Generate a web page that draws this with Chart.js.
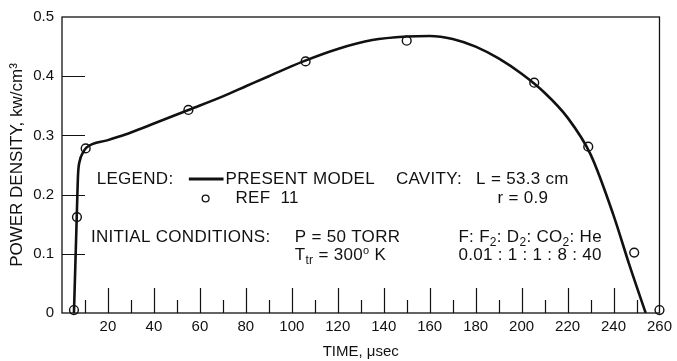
<!DOCTYPE html>
<html>
<head>
<meta charset="utf-8">
<style>
    html, body { margin: 0; padding: 0; background: #ffffff; }
    #wrap { width: 677px; height: 361px; position: relative; }
</style>
<script src="https://cdn.jsdelivr.net/npm/chart.js@4.4.1/dist/chart.umd.min.js"></script>
</head>
<body>
<div id="wrap"><canvas id="powerChart"></canvas></div>
<script>
// ================================================================
// DATA
// ================================================================

// present model curve (time in usec, power density in kw/cm3)
const modelTime = [5.2, 5.8, 6.4, 7.0, 7.8, 9.0, 10.5, 20, 30, 40, 55, 70, 80, 90, 105,
    120, 135, 150, 160, 170, 180, 190, 200, 210, 220, 230, 240, 247, 254];
const modelPower = [0, 0.08, 0.16, 0.235, 0.258, 0.27, 0.279, 0.292, 0.305, 0.32, 0.343,
    0.366, 0.383, 0.4, 0.425, 0.446, 0.461, 0.467, 0.468, 0.463, 0.45, 0.43, 0.404,
    0.372, 0.33, 0.268, 0.165, 0.08, 0];

// REF 11 points
const refTime = [5.2, 6.5, 10.3, 55, 106, 150, 205.5, 229, 249, 260];
const refPower = [0.005, 0.162, 0.278, 0.343, 0.425, 0.46, 0.389, 0.281, 0.102, 0.005];

// tick labels
const xTickValues = [20, 40, 60, 80, 100, 120, 140, 160, 180, 200, 220, 240, 260];
const yTickValues = [0, 0.1, 0.2, 0.3, 0.4, 0.5];

// ================================================================
// STYLE
// ================================================================

const FONT = '"Liberation Sans", Arial, Helvetica, sans-serif';
const INK = '#111111';
const NOTE_SIZE = 17;

// text block inside the plot, placed in data units
const NOTES = [
    { x: 15.1, y: 0.2265, parts: [['LEGEND:']] },
    { x: 71.2, y: 0.2265, parts: [['PRESENT MODEL']] },
    { x: 145.3, y: 0.2265, parts: [['CAVITY:']] },
    { x: 180.2, y: 0.2265, parts: [['L = 53.3 cm']] },
    { x: 75.5, y: 0.1935, parts: [['REF  11']] },
    { x: 189.5, y: 0.1935, parts: [['r = 0.9']] },
    { x: 12.6, y: 0.1275, parts: [['INITIAL CONDITIONS:']] },
    { x: 101.3, y: 0.1275, parts: [['P = 50 TORR']] },
    { x: 172.5, y: 0.1275, parts: [['F: F'], ['2', 'sub'], [': D'], ['2', 'sub'], [': CO'], ['2', 'sub'], [': He']] },
    { x: 101.3, y: 0.097, parts: [['T'], ['tr', 'sub'], [' = 300'], ['o', 'sup'], [' K']] },
    { x: 172.5, y: 0.097, parts: [['0.01 : 1 : 1 : 8 : 40']] }
];

// ================================================================
// PLUGINS
// ================================================================

/**
 * Box frame plus inward tick marks
 */
const frameTicks = {
    id: 'frameTicks',
    beforeDatasetsDraw(chart) {
        const { ctx, chartArea: a, scales: { x, y } } = chart;
        ctx.save();
        ctx.strokeStyle = INK;
        ctx.lineWidth = 1.3;
        ctx.strokeRect(a.left, a.top, a.right - a.left, a.bottom - a.top);

        ctx.lineWidth = 1.2;
        ctx.beginPath();
        for (let v = 10; v < 260; v += 10) {
            const px = Math.round(x.getPixelForValue(v)) + 0.5;
            const len = v % 20 === 0 ? 25 : 13;
            ctx.moveTo(px, a.bottom);
            ctx.lineTo(px, a.bottom - len);
        }
        yTickValues.forEach(v => {
            if (v === 0 || v === 0.5) return;
            const py = Math.round(y.getPixelForValue(v)) + 0.5;
            ctx.moveTo(a.left, py);
            ctx.lineTo(a.left + 23, py);
        });
        ctx.stroke();
        ctx.restore();
    }
};

/**
 * Draw text made of parts, some of them sub- or superscript
 */
function drawRich(ctx, x, y, parts) {
    let cx = x;
    parts.forEach(([text, mode]) => {
        let size = NOTE_SIZE;
        let dy = 0;
        if (mode === 'sub') { size = 12; dy = 5; }
        if (mode === 'sup') { size = 11; dy = -5; }
        ctx.font = `${size}px ${FONT}`;
        ctx.fillText(text, cx, y + dy);
        cx += ctx.measureText(text).width;
    });
}

const notesPlugin = {
    id: 'notes',
    afterDraw(chart) {
        const { ctx, scales: { x, y } } = chart;
        ctx.save();
        ctx.fillStyle = INK;
        ctx.textAlign = 'left';
        ctx.textBaseline = 'middle';
        ctx.letterSpacing = '0.3px';
        NOTES.forEach(n => drawRich(ctx, x.getPixelForValue(n.x), y.getPixelForValue(n.y), n.parts));

        // legend symbols
        ctx.strokeStyle = INK;
        ctx.lineWidth = 3;
        ctx.beginPath();
        ctx.moveTo(x.getPixelForValue(55.2), y.getPixelForValue(0.2265));
        ctx.lineTo(x.getPixelForValue(70.3), y.getPixelForValue(0.2265));
        ctx.stroke();
        ctx.lineWidth = 1.3;
        ctx.beginPath();
        ctx.arc(x.getPixelForValue(62.5), y.getPixelForValue(0.1935), 3.4, 0, Math.PI * 2);
        ctx.stroke();
        ctx.restore();
    }
};

// ================================================================
// CHART
// ================================================================

const modelData = modelTime.map((t, i) => ({ x: t, y: modelPower[i] }));
const refData = refTime.map((t, i) => ({ x: t, y: refPower[i] }));

new Chart(document.getElementById('powerChart'), {
    type: 'scatter',
    data: {
        datasets: [{
            label: 'PRESENT MODEL',
            data: modelData,
            showLine: true,
            borderColor: INK,
            borderWidth: 2.6,
            pointRadius: 0,
            cubicInterpolationMode: 'monotone'
        }, {
            label: 'REF 11',
            data: refData,
            borderColor: INK,
            backgroundColor: 'rgba(0,0,0,0)',
            borderWidth: 1.4,
            pointRadius: 4.4,
            clip: false
        }]
    },
    options: {
        responsive: true,
        maintainAspectRatio: false,
        animation: false,
        layout: { padding: { top: 15, right: 12, left: 0, bottom: 0 } },
        plugins: {
            legend: { display: false },
            tooltip: { enabled: false }
        },
        scales: {
            x: {
                type: 'linear',
                min: 0,
                max: 260,
                afterBuildTicks: s => { s.ticks = xTickValues.map(v => ({ value: v })); },
                afterFit: s => { s.height = 48; },
                grid: { display: false, drawTicks: false },
                border: { display: false },
                ticks: {
                    color: INK,
                    padding: 5,
                    maxRotation: 0,
                    autoSkip: false,
                    font: { family: FONT, size: 15 }
                },
                title: {
                    display: true,
                    text: 'TIME, \u03bcsec',
                    color: INK,
                    padding: { top: 0, bottom: 0 },
                    font: { family: FONT, size: 15 }
                }
            },
            y: {
                min: 0,
                max: 0.5,
                afterBuildTicks: s => { s.ticks = yTickValues.map(v => ({ value: v })); },
                afterFit: s => { s.width = 62; },
                grid: { display: false, drawTicks: false },
                border: { display: false },
                ticks: {
                    color: INK,
                    padding: 8,
                    autoSkip: false,
                    font: { family: FONT, size: 15 },
                    callback: v => (v === 0 ? '0' : v.toFixed(1))
                },
                title: {
                    display: true,
                    text: 'POWER DENSITY, kw/cm\u00b3',
                    color: INK,
                    padding: { top: 7, bottom: 0 },
                    font: { family: FONT, size: 17 }
                }
            }
        }
    },
    plugins: [frameTicks, notesPlugin]
});
</script>
</body>
</html>
